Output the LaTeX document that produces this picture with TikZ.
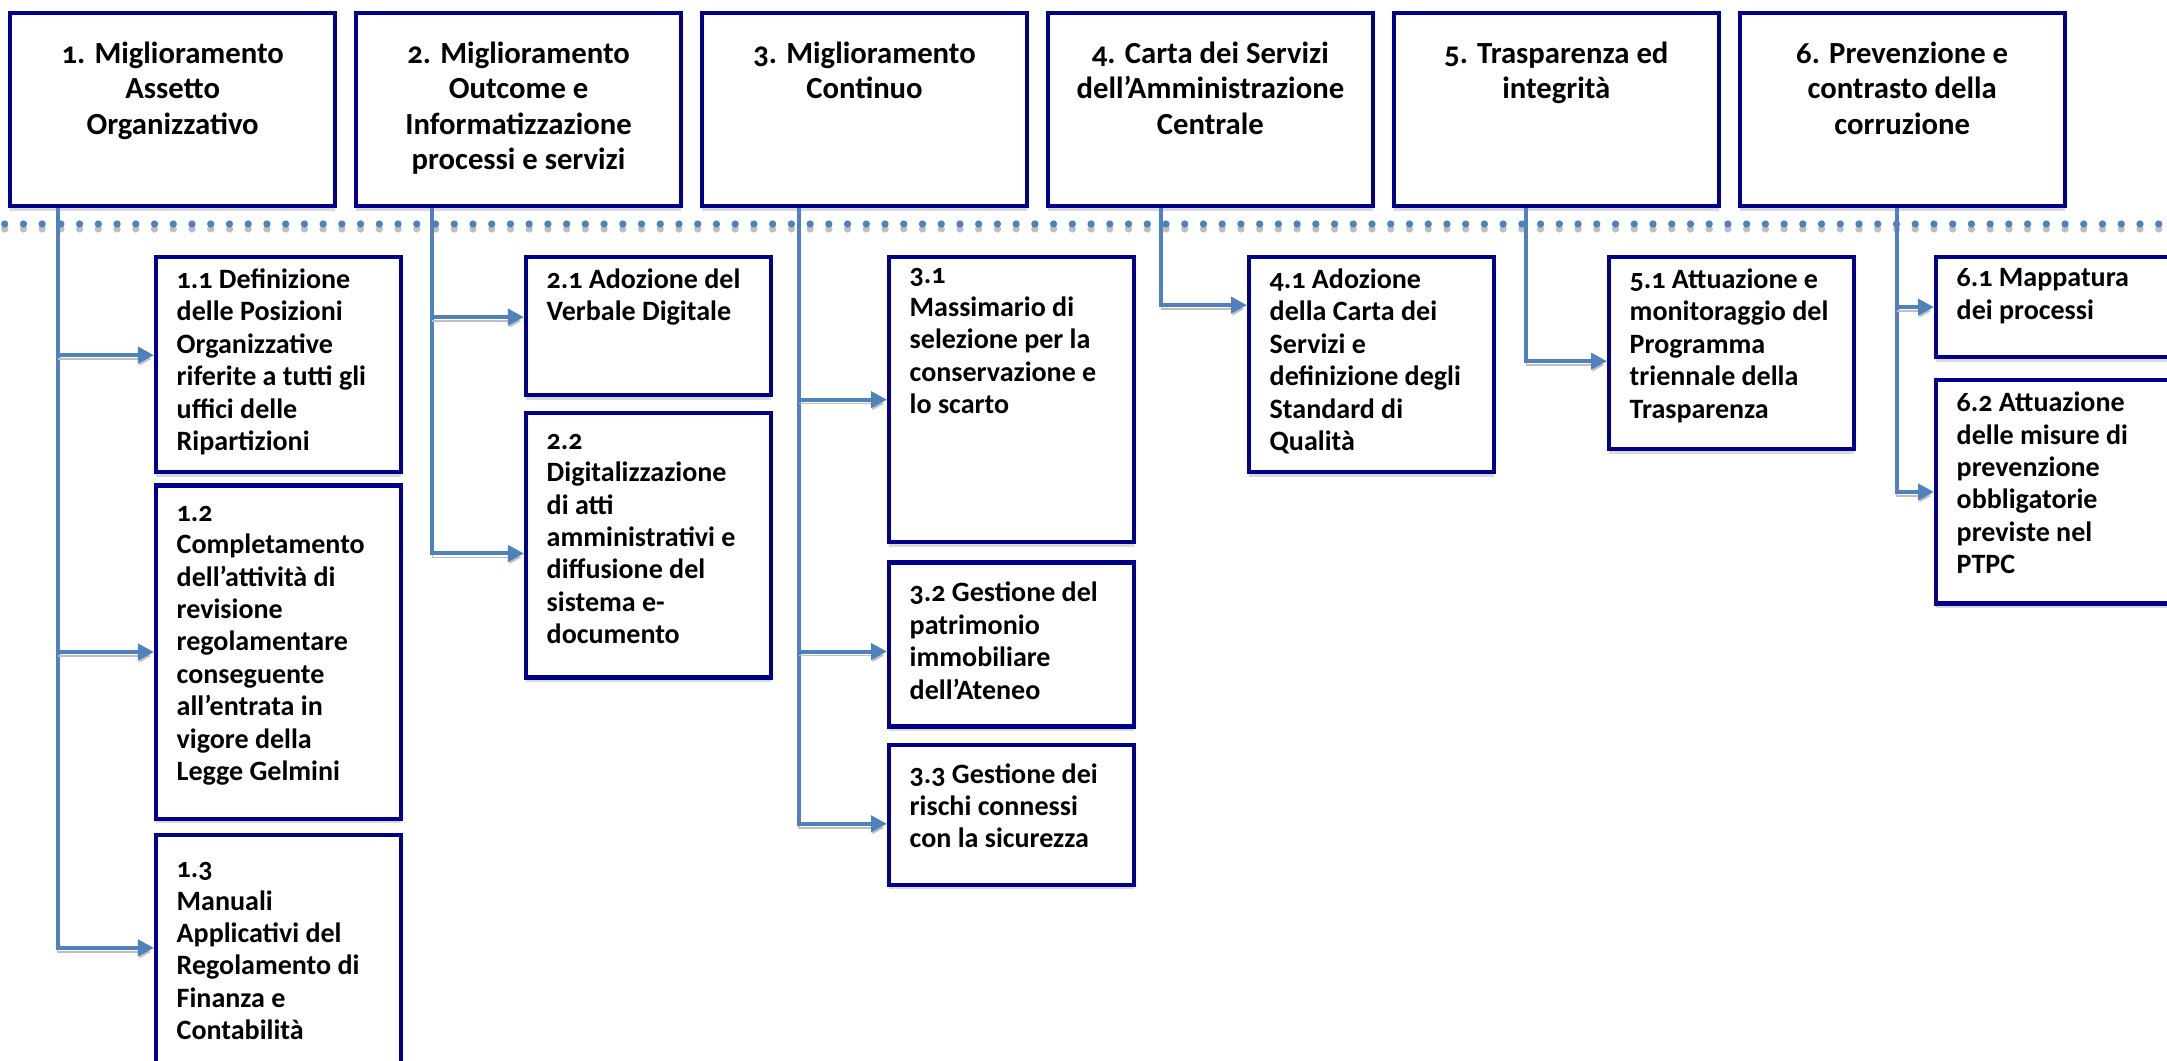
\documentclass[tikz,border=0pt]{standalone}
\usepackage{fontspec}
\setmainfont{Carlito}[Numbers=OldStyle]
\usetikzlibrary{positioning,arrows.meta,shadows}

\definecolor{boxblue}{RGB}{0,0,140}
\definecolor{linkblue}{RGB}{79,129,189}

\tikzset{
  head/.style={draw=boxblue, line width=0.042cm, fill=white, anchor=north west,
    minimum width=3.25cm, minimum height=1.93cm, inner sep=0pt,
    drop shadow={shadow xshift=0cm, shadow yshift=-0.045cm, opacity=0.3}},
  sub/.style={head, minimum width=2.445cm, minimum height=#1},
  headtext/.style={anchor=north, yshift=-0.30cm, inner sep=0pt, align=center,
    font=\fontsize{8.73pt}{10.1pt}\selectfont\bfseries, execute at begin node=\strut},
  subtext/.style={anchor=north west, xshift=0.22cm, yshift=#1, inner sep=0pt, align=left,
    font=\fontsize{7.97pt}{9.22pt}\selectfont\bfseries, execute at begin node=\strut},
  subtext/.default=-0.13cm,
  branch/.style={draw=linkblue, line width=0.04cm, -{Triangle[length=0.16cm,width=0.16cm]},
    preaction={draw=black!25, transform canvas={yshift=-0.04cm}}},
  dots/.style={line width=0.073cm, line cap=round, dash pattern=on 0pt off 0.1872cm}
}

\begin{document}
\begin{tikzpicture}[x=0.01cm, y=-0.01cm]
    \useasboundingbox (0,0) rectangle (2167,1061);

    % dotted separator
    \draw[dots, black!25] (4.7,229) -- (2167,229);
    \draw[dots, linkblue] (4.7,224) -- (2167,224);

    % objectives
    \node[head, label={[headtext]north:{1. Miglioramento\\Assetto\\Organizzativo}}]
      (h1) at (8,11) {};
    \node[head, right=0.165cm of h1,
      label={[headtext]north:{2. Miglioramento\\Outcome e\\Informatizzazione\\processi e servizi}}]
      (h2) {};
    \node[head, right=0.165cm of h2,
      label={[headtext]north:{3. Miglioramento\\Continuo}}] (h3) {};
    \node[head, right=0.165cm of h3,
      label={[headtext]north:{4. Carta dei Servizi\\dell’Amministrazione\\Centrale}}] (h4) {};
    \node[head, right=0.165cm of h4,
      label={[headtext]north:{5. Trasparenza ed\\integrità}}] (h5) {};
    \node[head, right=0.165cm of h5,
      label={[headtext]north:{6. Prevenzione e\\contrasto della\\corruzione}}] (h6) {};

    \coordinate (t1) at ([xshift=0.495cm]h1.south west);
    \coordinate (t2) at ([xshift=0.785cm]h2.south west);
    \coordinate (t3) at ([xshift=0.99cm]h3.south west);
    \coordinate (t4) at ([xshift=1.155cm]h4.south west);
    \coordinate (t5) at ([xshift=1.345cm]h5.south west);
    \coordinate (t6) at ([xshift=1.59cm]h6.south west);

    % actions
    \node[sub=2.15cm, label={[subtext]north west:{1.1 Definizione\\delle Posizioni\\Organizzative\\riferite a tutti gli\\uffici delle\\Ripartizioni}}]
      (s11) at (154,255) {};
    \node[sub=3.33cm, below=0.09cm of s11,
      label={[subtext=-0.22cm]north west:{1.2\\Completamento\\dell’attività di\\revisione\\regolamentare\\conseguente\\all’entrata in\\vigore della\\Legge Gelmini}}]
      (s12) {};
    \node[sub=2.35cm, below=0.12cm of s12,
      label={[subtext=-0.29cm]north west:{1.3\\Manuali\\Applicativi del\\Regolamento di\\Finanza e\\Contabilità}}]
      (s13) {};

    \node[sub=1.38cm, label={[subtext]north west:{2.1 Adozione del\\Verbale Digitale}}]
      (s21) at (524,255) {};
    \node[sub=2.64cm, below=0.14cm of s21,
      label={[subtext=-0.22cm]north west:{2.2\\Digitalizzazione\\di atti\\amministrativi e\\diffusione del\\sistema e-\\documento}}]
      (s22) {};

    \node[sub=2.85cm, label={[subtext]north west:{3.1\\Massimario di\\selezione per la\\conservazione e\\lo scarto}}]
      (s31) at (887,255) {};
    \node[sub=1.64cm, below=0.16cm of s31,
      label={[subtext=-0.21cm]north west:{3.2 Gestione del\\patrimonio\\immobiliare\\dell’Ateneo}}]
      (s32) {};
    \node[sub=1.40cm, below=0.14cm of s32,
      label={[subtext=-0.20cm]north west:{3.3 Gestione dei\\rischi connessi\\con la sicurezza}}]
      (s33) {};

    \node[sub=2.15cm, label={[subtext]north west:{4.1 Adozione\\della Carta dei\\Servizi e\\definizione degli\\Standard di\\Qualità}}]
      (s41) at (1247,255) {};

    \node[sub=1.92cm, label={[subtext]north west:{5.1 Attuazione e\\monitoraggio del\\Programma\\triennale della\\Trasparenza}}]
      (s51) at (1607,255) {};

    \node[sub=1.00cm, label={[subtext]north west:{6.1 Mappatura\\dei processi}}]
      (s61) at (1934,255) {};
    \node[sub=2.23cm, below=0.19cm of s61,
      label={[subtext]north west:{6.2 Attuazione\\delle misure di\\prevenzione\\obbligatorie\\previste nel\\PTPC}}]
      (s62) {};

    % connectors
    \draw[branch] (t1) |- ([yshift=0.045cm]s13.west);
    \draw[branch] ([yshift=0.095cm]s11.west -| t1) -- ([yshift=0.095cm]s11.west);
    \draw[branch] (s12.west -| t1) -- (s12.west);

    \draw[branch] (t2) |- ([yshift=-0.08cm]s22.west);
    \draw[branch] ([yshift=0.09cm]s21.west -| t2) -- ([yshift=0.09cm]s21.west);

    \draw[branch] (t3) |- ([yshift=-0.09cm]s33.west);
    \draw[branch] (s31.west -| t3) -- (s31.west);
    \draw[branch] ([yshift=-0.07cm]s32.west -| t3) -- ([yshift=-0.07cm]s32.west);

    \draw[branch] (t4) |- ([yshift=0.595cm]s41.west);

    \draw[branch] (t5) |- ([yshift=-0.08cm]s51.west);

    \draw[branch] (t6) |- (s62.west);
    \draw[branch] (s61.west -| t6) -- (s61.west);
\end{tikzpicture}
\end{document}
